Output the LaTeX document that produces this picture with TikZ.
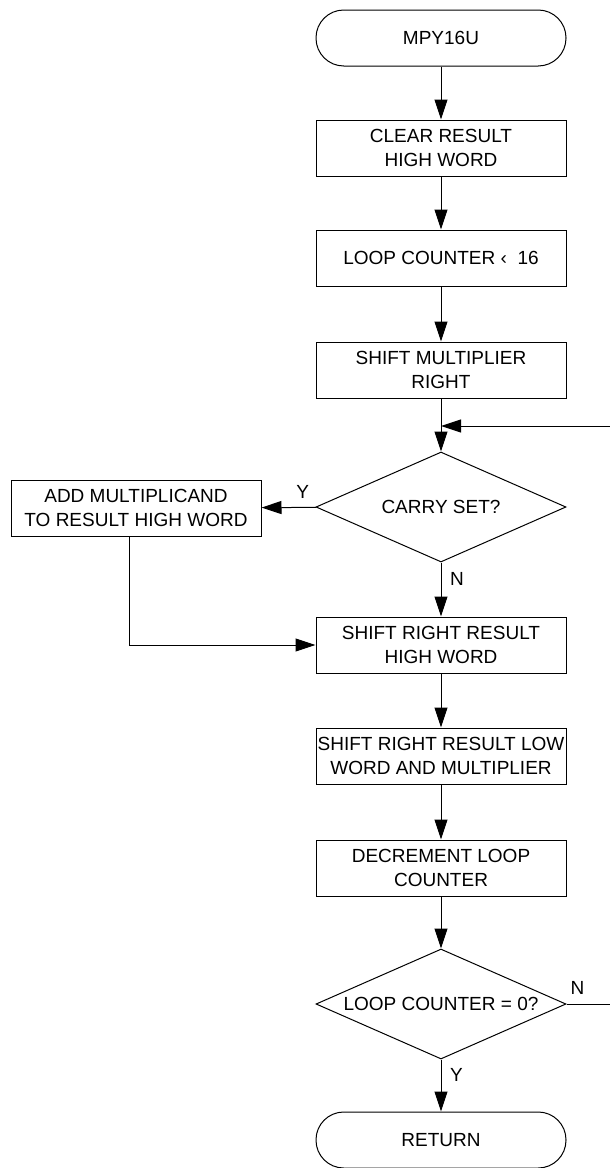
\documentclass[tikz,border=0pt]{standalone}
\usepackage{fontspec}
\setmainfont{Liberation Sans}
\usetikzlibrary{shapes.geometric,arrows.meta}

\begin{document}
\begin{tikzpicture}[x=0.5pt,y=-0.5pt,
                    line width=0.5pt,
                    tnode/.style = {shape = rectangle,
                                    rounded corners = 13.9pt,
                                    color = black,
                                    minimum width = 125pt,
                                    minimum height = 28pt,
                                    font=\fontsize{9.5}{11.7}\selectfont,
                                    draw},
                    bnode/.style = {shape = rectangle,
                                    color = black,
                                    inner sep=0pt,
                                    minimum width = 125pt,
                                    minimum height = 28pt,
                                    align = center,
                                    font=\fontsize{9.5}{11.7}\selectfont,
                                    draw},
                    dnode/.style = {shape = diamond,
                                    color = black,
                                    inner sep=0pt,
                                    aspect = 2.27,
                                    minimum width = 125pt,
                                    minimum height = 55pt,
                                    font=\fontsize{9.5}{11.7}\selectfont,
                                    draw},
                    lbl/.style = {font=\fontsize{9.5}{11.7}\selectfont},
                    arr/.style = {-{Triangle[length=10pt,width=6.5pt]}}]
		\useasboundingbox (0,0) rectangle (610,1168);
		\node[tnode] (start) at (441,38) {MPY16U};
		\node[bnode] (clr) at (441,148) {CLEAR RESULT\\HIGH WORD};
		\node[bnode] (cnt) at (441,258) {LOOP COUNTER ‹\ \ 16};
		\node[bnode] (shm) at (441,370) {SHIFT MULTIPLIER\\RIGHT};
		\node[dnode] (carry) at (441,507) {CARRY SET?};
		\node[bnode] (add) at (136,508) {ADD MULTIPLICAND\\TO RESULT HIGH WORD};
		\node[bnode] (srh) at (441,645) {SHIFT RIGHT RESULT\\HIGH WORD};
		\node[bnode] (srl) at (441,756) {SHIFT RIGHT RESULT LOW\\WORD AND MULTIPLIER};
		\node[bnode] (dec) at (441,868) {DECREMENT LOOP\\COUNTER};
		\node[dnode] (zero) at (441,1004) {LOOP COUNTER = 0?};
		\node[tnode] (ret) at (441,1140) {RETURN};
		\coordinate (lp) at (610,426);
		\coordinate (lj) at (441,426);
		\coordinate (ne) at (610,1004);
		\path (start) edge[arr] (clr);
		\path (clr) edge[arr] (cnt);
		\path (cnt) edge[arr] (shm);
		\path (shm) edge[arr] (carry);
		\path (lp) edge[arr] (lj);
		\path (carry) edge[arr] node[lbl, above=1pt, pos=0.25] {Y} (add);
		\path (carry) edge[arr] node[lbl, right=1pt, pos=0.3] {N} (srh);
		\draw[arr] ([xshift=-3.5pt]add.south) |- (srh.west);
		\path (srh) edge[arr] (srl);
		\path (srl) edge[arr] (dec);
		\path (dec) edge[arr] (zero);
		\path (zero.east) edge node[lbl, above=1pt, pos=0.25] {N} (ne);
		\path (zero) edge[arr] node[lbl, right=1pt, pos=0.3] {Y} (ret);
	\end{tikzpicture}
\end{document}
